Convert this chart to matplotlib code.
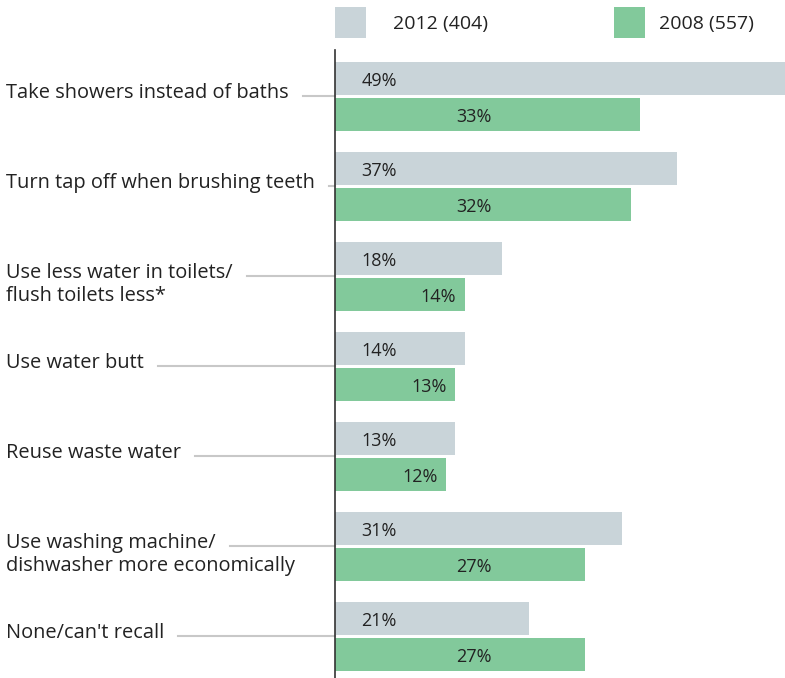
import matplotlib
matplotlib.use("Agg")
import matplotlib.pyplot as plt
import matplotlib.transforms as mtransforms
from matplotlib.patches import Rectangle
from matplotlib.lines import Line2D

categories = [
    "Take showers instead of baths",
    "Turn tap off when brushing teeth",
    "Use less water in toilets/\nflush toilets less*",
    "Use water butt",
    "Reuse waste water",
    "Use washing machine/\ndishwasher more economically",
    "None/can't recall",
]
values_2012 = [49, 37, 18, 14, 13, 31, 21]
values_2008 = [33, 32, 14, 13, 12, 27, 27]
series_labels = ["2012 (404)", "2008 (557)"]

grey = "#c9d4d9"
green = "#82c99b"
text_col = "#222222"

plt.rcParams['font.family'] = ['Open Sans', 'DejaVu Sans']
label_fs = 14.4
value_fs = 13
legend_fs = 14

W, H = 785, 678
fig = plt.figure(figsize=(W / 100, H / 100), dpi=100)
ax = fig.add_axes([335 / W, 0, 450 / W, 628 / H])

ys = list(range(len(categories)))
bar_h = 0.367
off_top, off_bot = -0.194, 0.206

ax.barh([y + off_top for y in ys], values_2012, height=bar_h, color=grey, linewidth=0)
ax.barh([y + off_bot for y in ys], values_2008, height=bar_h, color=green, linewidth=0)

ax.set_xlim(0, 450 / 9.25)
ax.set_ylim(6.467, -0.511)
for side in ["top", "right", "bottom"]:
    ax.spines[side].set_visible(False)
ax.spines["left"].set_color("#333333")
ax.spines["left"].set_linewidth(1.2)
ax.set_xticks([])
ax.set_yticks([])

for y, v in zip(ys, values_2012):
    ax.text(2.85, y + off_top, f"{v}%", ha="left", va="center_baseline",
            fontsize=value_fs, color=text_col)
for y, v in zip(ys, values_2008):
    ax.text(min(15, v - 2.8), y + off_bot, f"{v}%", ha="center", va="center_baseline",
            fontsize=value_fs, color=text_col)

# category labels on the left with grey leader lines to the axis
trans = mtransforms.blended_transform_factory(fig.transFigure, ax.transData)
renderer = fig.canvas.get_renderer()
for y, cat in zip(ys, categories):
    ax.text(6 / W, y - 0.14, cat, transform=trans, ha="left", va="top",
            fontsize=label_fs, linespacing=1.2, color=text_col)
    first = fig.text(6 / W, 0.5, cat.split("\n")[0], fontsize=label_fs)
    x_end = first.get_window_extent(renderer).x1
    first.remove()
    ax.add_line(Line2D([(x_end + 14) / W, 335 / W], [y, y], transform=trans,
                       color="#c8c8c8", lw=1.5, clip_on=False))

# legend
for x0, tx, col, lab in [(335, 393, grey, series_labels[0]), (614, 659, green, series_labels[1])]:
    fig.patches.append(Rectangle((x0 / W, (H - 38) / H), 31 / W, 31 / H,
                                 transform=fig.transFigure, color=col, linewidth=0))
    fig.text(tx / W, (H - 22) / H, lab, ha="left", va="center_baseline",
             fontsize=legend_fs, color=text_col)

fig.savefig("out.png", dpi=100)
